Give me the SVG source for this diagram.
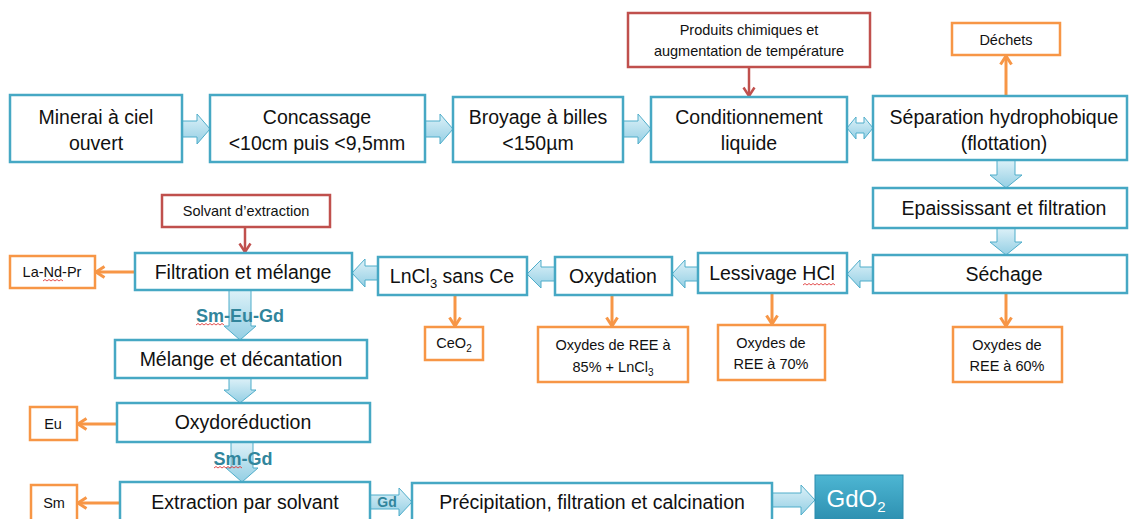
<svg xmlns="http://www.w3.org/2000/svg" width="1131" height="519" viewBox="0 0 1131 519">
<style>
.bx{fill:#fff;stroke:#46A8C4;stroke-width:2.5}
.rb{fill:#fff;stroke:#C0504D;stroke-width:2.5}
.ob{fill:#fff;stroke:#F79646;stroke-width:2.5}
.t{font-family:"Liberation Sans",Arial,sans-serif;font-size:19.5px;fill:#111;text-anchor:middle}
.s{font-family:"Liberation Sans",Arial,sans-serif;font-size:14.5px;fill:#111;text-anchor:middle}
.lab{font-family:"Liberation Sans",Arial,sans-serif;font-size:18px;font-weight:bold;fill:#31859C;text-anchor:middle}
.ba{fill:url(#bg);stroke:#4FADCA;stroke-width:1}
.ol{stroke:#F79646;stroke-width:3;fill:none;marker-end:url(#mo)}
.rl{stroke:#C0504D;stroke-width:2.5;fill:none;marker-end:url(#mr)}
.sq{stroke:#E03C3C;stroke-width:0.9;fill:none}
</style>
<defs>
<linearGradient id="bg" x1="0" y1="0" x2="0" y2="1">
<stop offset="0" stop-color="#DDF1F8"/>
<stop offset="1" stop-color="#94CFE4"/>
</linearGradient>
<linearGradient id="gd" x1="0" y1="0" x2="0" y2="1">
<stop offset="0" stop-color="#4DB6D3"/>
<stop offset="1" stop-color="#2A8CAD"/>
</linearGradient>
<marker id="mo" viewBox="0 0 12 14" refX="10" refY="7" markerWidth="12" markerHeight="14" markerUnits="userSpaceOnUse" orient="auto">
<path d="M1.5,1.5 L10,7 L1.5,12.5" fill="none" stroke="#F79646" stroke-width="3"/>
</marker>
<marker id="mr" viewBox="0 0 12 14" refX="10" refY="7" markerWidth="12" markerHeight="14" markerUnits="userSpaceOnUse" orient="auto">
<path d="M1.5,1.5 L10,7 L1.5,12.5" fill="none" stroke="#C0504D" stroke-width="2.5"/>
</marker>
</defs>
<rect width="1131" height="519" fill="#fff"/>

<g id="connectors">
<path class="ba" d="M182,121 L197,121 L197,114 L210,129 L197,144 L197,137 L182,137 Z"/>
<path class="ba" d="M425,121 L440,121 L440,114 L453,129 L440,144 L440,137 L425,137 Z"/>
<path class="ba" d="M623,121 L638,121 L638,114 L651,129 L638,144 L638,137 L623,137 Z"/>
<path class="ba" d="M847,128 L856,117 L856,123 L864,123 L864,117 L873,128 L864,139 L864,133 L856,133 L856,139 Z"/>
<path class="ba" d="M997,160 L1015,160 L1015,175 L1022,175 L1006,188 L990,175 L997,175 Z"/>
<path class="ba" d="M997,228 L1015,228 L1015,242 L1022,242 L1006,255 L990,242 L997,242 Z"/>
<path class="ba" d="M873,267 L860,267 L860,260 L847,274 L860,288 L860,281 L873,281 Z"/>
<path class="ba" d="M698,267 L685,267 L685,260 L672,274 L685,288 L685,281 L698,281 Z"/>
<path class="ba" d="M555,267 L541,267 L541,260 L527,274 L541,288 L541,281 L555,281 Z"/>
<path class="ba" d="M378,266 L365,266 L365,259 L352,273 L365,287 L365,280 L378,280 Z"/>
<path class="ba" d="M229,290 L251,290 L251,326 L256,326 L240,340 L224,326 L229,326 Z"/>
<path class="ba" d="M229,378 L251,378 L251,390 L256,390 L240,403 L224,390 L229,390 Z"/>
<path class="ba" d="M231,442 L253,442 L253,468 L258,468 L242,482 L226,468 L231,468 Z"/>
<path class="ba" d="M370,495 L399,495 L399,488 L412,502 L399,516 L399,509 L370,509 Z"/>
<path class="ba" d="M772,493 L801,493 L801,485 L815,500 L801,515 L801,507 L772,507 Z"/>
<line class="rl" x1="749" y1="67" x2="749" y2="96"/>
<line class="rl" x1="245" y1="227" x2="245" y2="252"/>
<line class="ol" x1="1006" y1="95" x2="1006" y2="56"/>
<line class="ol" x1="1006" y1="294" x2="1006" y2="326"/>
<line class="ol" x1="455" y1="296" x2="455" y2="326"/>
<line class="ol" x1="612" y1="296" x2="612" y2="326"/>
<line class="ol" x1="772" y1="294" x2="772" y2="324"/>
<line class="ol" x1="134" y1="272" x2="96" y2="272"/>
<line class="ol" x1="116" y1="424" x2="78" y2="424"/>
<line class="ol" x1="119" y1="503" x2="78" y2="503"/>
<text class="lab" x="240" y="322">Sm-Eu-Gd</text>
<text class="lab" x="243" y="465">Sm-Gd</text>
<text class="lab" x="387" y="507" style="font-size:14px">Gd</text>
<path class="sq" d="M196,325 l2,-1.5 l2,1.5 l2,-1.5 l2,1.5 l2,-1.5 l2,1.5 l2,-1.5 l2,1.5 l2,-1.5 l2,1.5 l2,-1.5 l2,1.5 l2,-1.5 l2,1.5"/>
<path class="sq" d="M214,468 l2,-1.5 l2,1.5 l2,-1.5 l2,1.5 l2,-1.5 l2,1.5 l2,-1.5 l2,1.5 l2,-1.5 l2,1.5 l2,-1.5 l2,1.5 l2,-1.5 l2,1.5"/>
</g>

<g id="n-minerai"><rect class="bx" x="10" y="95" width="172" height="67"/><text class="t" x="96" y="124">Minerai à ciel</text><text class="t" x="96" y="150">ouvert</text></g>
<g id="n-concassage"><rect class="bx" x="210" y="95" width="215" height="67"/><text class="t" x="317" y="124">Concassage</text><text class="t" x="317" y="150">&lt;10cm puis &lt;9,5mm</text></g>
<g id="n-broyage"><rect class="bx" x="453" y="97" width="170" height="65"/><text class="t" x="538" y="124">Broyage à billes</text><text class="t" x="538" y="150">&lt;150µm</text></g>
<g id="n-conditionnement"><rect class="bx" x="651" y="97" width="196" height="65"/><text class="t" x="749" y="124">Conditionnement</text><text class="t" x="749" y="150">liquide</text></g>
<g id="n-produits"><rect class="rb" x="628" y="13" width="242" height="54"/><text class="s" x="749" y="35">Produits chimiques et</text><text class="s" x="749" y="56">augmentation de température</text></g>
<g id="n-separation"><rect class="bx" x="873" y="96" width="254" height="64"/><text class="t" x="1004" y="124">Séparation hydrophobique</text><text class="t" x="1004" y="150">(flottation)</text></g>
<g id="n-dechets"><rect class="ob" x="952" y="23" width="108" height="32"/><text class="s" x="1006" y="45">Déchets</text></g>
<g id="n-epaississant"><rect class="bx" x="873" y="188" width="254" height="40"/><text class="t" x="1004" y="215">Epaississant et filtration</text></g>
<g id="n-sechage"><rect class="bx" x="873" y="255" width="254" height="38"/><text class="t" x="1004" y="281">Séchage</text></g>
<g id="n-ree60"><rect class="ob" x="953" y="327" width="109" height="55"/><text class="s" x="1007" y="350">Oxydes de</text><text class="s" x="1007" y="371">REE à 60%</text></g>
<g id="n-lessivage"><rect class="bx" x="698" y="253" width="149" height="40"/><text class="t" x="772" y="280">Lessivage HCl</text><path class="sq" d="M803,285 l2,-1.5 l2,1.5 l2,-1.5 l2,1.5 l2,-1.5 l2,1.5 l2,-1.5 l2,1.5 l2,-1.5 l2,1.5 l2,-1.5 l2,1.5 l2,-1.5 l2,1.5 l2,-1.5 l2,1.5"/></g>
<g id="n-ree70"><rect class="ob" x="718" y="325" width="107" height="55"/><text class="s" x="771" y="348">Oxydes de</text><text class="s" x="771" y="369">REE à 70%</text></g>
<g id="n-oxydation"><rect class="bx" x="555" y="257" width="117" height="38"/><text class="t" x="613" y="283">Oxydation</text></g>
<g id="n-ree85"><rect class="ob" x="538" y="327" width="150" height="55"/><text class="s" x="613" y="350">Oxydes de REE à</text><text class="s" x="613" y="372">85% + LnCl<tspan font-size="10" dy="4">3</tspan></text></g>
<g id="n-lncl3"><rect class="bx" x="378" y="257" width="149" height="38"/><text class="t" x="452" y="283">LnCl<tspan font-size="13" dy="5">3</tspan><tspan dy="-5"> sans Ce</tspan></text></g>
<g id="n-ceo2"><rect class="ob" x="425" y="327" width="58" height="33"/><text class="s" x="454" y="348">CeO<tspan font-size="10" dy="4">2</tspan></text></g>
<g id="n-filtration"><rect class="bx" x="135" y="253" width="217" height="37"/><text class="t" x="243" y="279">Filtration et mélange</text></g>
<g id="n-solvant"><rect class="rb" x="162" y="195" width="168" height="32"/><text class="s" x="246" y="216">Solvant d’extraction</text></g>
<g id="n-landpr"><rect class="ob" x="10" y="256" width="85" height="32"/><text class="s" x="52" y="277">La-Nd-Pr</text><path class="sq" d="M43,281 l2,-1.5 l2,1.5 l2,-1.5 l2,1.5 l2,-1.5 l2,1.5 l2,-1.5 l2,1.5 l2,-1.5 l2,1.5"/></g>
<g id="n-melange"><rect class="bx" x="115" y="340" width="252" height="38"/><text class="t" x="241" y="366">Mélange et décantation</text></g>
<g id="n-oxydoreduction"><rect class="bx" x="117" y="403" width="253" height="39"/><text class="t" x="243" y="429">Oxydoréduction</text></g>
<g id="n-eu"><rect class="ob" x="30" y="407" width="47" height="33"/><text class="s" x="53" y="429">Eu</text></g>
<g id="n-extraction"><rect class="bx" x="120" y="482" width="250" height="45"/><text class="t" x="245" y="509">Extraction par solvant</text></g>
<g id="n-sm"><rect class="ob" x="31" y="485" width="46" height="40"/><text class="s" x="54" y="508">Sm</text></g>
<g id="n-precipitation"><rect class="bx" x="412" y="483" width="360" height="45"/><text class="t" x="592" y="509">Précipitation, filtration et calcination</text></g>
<g id="n-gdo2"><rect x="815" y="475" width="88" height="50" fill="url(#gd)" stroke="#2A8CAD" stroke-width="1"/><text class="t" x="856" y="507" style="fill:#fff;font-size:24px">GdO<tspan font-size="15" dy="5">2</tspan></text></g>
</svg>
